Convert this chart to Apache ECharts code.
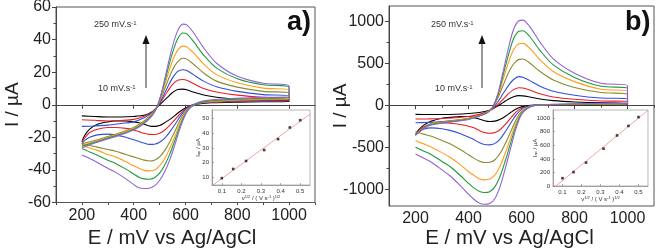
<!DOCTYPE html>
<html lang="en">
<head>
<meta charset="UTF-8">
<title>CV scan rate study</title>
<script src="https://cdn.jsdelivr.net/npm/echarts@6.0.0/dist/echarts.min.js"></script>
<style>
  html, body { margin: 0; padding: 0; background: #fff; }
  #chart { width: 656px; height: 252px; }
</style>
</head>
<body>
<div id="chart"></div>
<script>
  // scan rates (mV/s), lowest to highest, and the colour of each curve
  var scanRates = [10, 25, 50, 100, 150, 200, 250];
  var colors = ['#000000', '#f01d25', '#3050dc', '#8b8b2e', '#ff9d1f', '#1f9b3e', '#9064d4'];

  // potentials (mV) where the curves were read, forward and reverse sweep
  var eForward = [200, 250, 300, 350, 400, 440, 470, 490, 510, 530, 550, 570, 590, 605, 630, 670, 720, 800, 900, 1000];
  var eReverse = [1000, 900, 800, 700, 650, 620, 600, 580, 560, 540, 520, 500, 480, 460, 440, 420, 400, 370, 330, 300, 260, 230, 210, 200];

  // panel a) currents, uA
  var aForward = [
    [-6.8, -7.2, -7.5, -7.5, -7.2, -6.5, -4.5, -1.5, 1.5, 4.5, 7.5, 9.3, 9.6, 9.2, 7.8, 6, 4.6, 3.5, 2.8, 2.5],
    [-9.2, -9.5, -10, -9.7, -9, -7, -4.5, -1.5, 3, 8, 12.5, 15, 15.5, 15, 13, 10, 7.8, 5.9, 4.6, 4],
    [-13.3, -13, -12.5, -11.5, -10.5, -8, -5, -1.5, 4, 10.5, 16.5, 20.5, 21.5, 21, 18.5, 14.5, 11, 8.2, 6.2, 5.3],
    [-24, -22, -19.5, -17, -14, -10, -5.5, -1.5, 6, 14, 21.5, 26.5, 28.5, 28, 25, 19.5, 14.5, 10.8, 8.2, 7.2],
    [-25, -22.5, -20, -17.5, -14.5, -10.5, -6, -1.5, 7.5, 17.5, 27, 33.5, 36, 35.5, 32, 25, 18.5, 13.5, 10.2, 9],
    [-25.5, -23, -20.5, -18, -15, -11, -6.5, -1.5, 8.5, 20.5, 32, 40.5, 44, 43.5, 39, 30.5, 22.5, 16, 12.3, 10.8],
    [-26.5, -23.5, -21, -18.5, -15.5, -11.5, -7, -1.5, 9, 23, 36, 45.5, 49.5, 49, 44.5, 35, 25.5, 17.5, 13.2, 11.5]
  ];
  var aReverse = [
    [2, 1.8, 1.6, 1.2, 0.5, -0.5, -2, -4, -6.5, -9, -11, -12.8, -13.3, -13, -12, -11, -10.5, -10, -10, -10.5, -12, -15, -19, -22.6],
    [2.5, 2.2, 2, 1.5, 0.8, -0.5, -2.5, -5.5, -9, -12.5, -15.5, -17.5, -18.3, -18.2, -17.5, -16.5, -15.5, -14.5, -14, -14, -15, -17, -20.5, -23],
    [3, 2.7, 2.4, 1.8, 1, -0.8, -3, -7, -12, -16.5, -20.5, -23, -24.2, -24.3, -23.5, -22.5, -21.5, -20, -18.5, -18, -18.5, -20, -22, -24],
    [3.5, 3.2, 2.8, 2, 1, -1, -4, -9, -16, -22.5, -28, -32, -34, -34.5, -34, -33, -32, -30.5, -28.5, -27.5, -26, -25, -24.5, -24.5],
    [4, 3.5, 3, 2, 1, -1.5, -5, -11, -19, -26.5, -33, -37.5, -40, -40.6, -40.3, -39, -37.5, -35, -32, -30.5, -28, -26.5, -25.5, -25],
    [4.5, 4, 3.5, 2.5, 1, -1.5, -5.5, -12.5, -21.5, -30, -37, -42, -44.8, -45.7, -45.5, -44.5, -42.5, -39.5, -36, -34, -31, -29, -27.5, -27],
    [5, 4.5, 4, 3, 1.5, -1.5, -6, -14, -24, -33.5, -41, -46.5, -49.8, -51.2, -51.4, -51, -49, -45.5, -41.5, -39, -35.5, -33, -31.5, -30.8]
  ];

  // panel b) currents, uA
  var bForward = [
    [-110, -112, -111, -108, -100, -88, -70, -45, -10, 30, 70, 100, 113, 111, 98, 74, 54, 38, 27, 25],
    [-165, -163, -158, -150, -135, -110, -80, -45, 5, 70, 135, 185, 208, 205, 180, 135, 98, 70, 50, 45],
    [-210, -205, -195, -180, -160, -125, -85, -40, 35, 135, 230, 305, 339, 333, 295, 225, 165, 118, 85, 75],
    [-355, -230, -200, -180, -155, -120, -85, -30, 80, 230, 380, 490, 545, 549, 505, 400, 300, 210, 150, 130],
    [-355, -235, -205, -185, -160, -125, -88, -30, 100, 300, 500, 660, 730, 735, 680, 540, 400, 280, 190, 165],
    [-355, -240, -210, -190, -165, -128, -90, -30, 115, 350, 590, 790, 880, 885, 820, 650, 480, 330, 225, 200],
    [-355, -245, -215, -195, -170, -132, -92, -30, 125, 390, 670, 900, 1005, 1012, 940, 750, 550, 380, 260, 230]
  ];
  var bReverse = [
    [8, 6, 5, 3, 0, -8, -20, -45, -85, -130, -168, -190, -195, -185, -165, -145, -135, -135, -145, -155, -190, -240, -300, -355],
    [10, 8, 6, 3, -2, -15, -35, -80, -150, -225, -290, -325, -335, -325, -300, -270, -250, -230, -215, -210, -225, -260, -310, -355],
    [12, 10, 8, 4, -3, -20, -50, -115, -210, -310, -400, -455, -473, -468, -445, -410, -380, -340, -300, -280, -270, -285, -320, -355],
    [15, 12, 10, 5, -5, -30, -75, -170, -310, -450, -570, -650, -680, -683, -665, -630, -590, -530, -460, -420, -370, -345, -325, -315],
    [18, 15, 12, 6, -5, -35, -90, -210, -380, -560, -720, -830, -880, -889, -875, -835, -790, -710, -620, -565, -500, -460, -435, -420],
    [20, 17, 14, 7, -5, -40, -100, -240, -440, -650, -840, -970, -1030, -1040, -1025, -985, -930, -840, -730, -670, -590, -545, -515, -500],
    [22, 19, 16, 8, -5, -45, -110, -270, -500, -740, -960, -1110, -1170, -1180, -1165, -1120, -1060, -960, -840, -770, -680, -630, -595, -580]
  ];

  // insets: anodic peak current vs square root of scan rate
  var sqrtV = [0.1, 0.158, 0.224, 0.316, 0.387, 0.447, 0.5];
  var ipaA = [9.2, 15.5, 21, 28.5, 36, 44, 49];
  var ipaB = [115, 205, 345, 550, 745, 885, 1015];

  var mainTicksE = [200, 400, 600, 800, 1000];
  var minorTicksE = [100, 200, 300, 400, 500, 600, 700, 800, 900, 1000, 1100];
  var ticksB = [-1000, -500, 0, 500, 1000];
  var minorTicksB = [-1000, -750, -500, -250, 0, 250, 500, 750, 1000];
  var insetTicksX = [0.1, 0.2, 0.3, 0.4, 0.5];
  var insetTicksA = [10, 20, 30, 40, 50];
  var insetTicksB = [0, 200, 400, 600, 800, 1000];

  var font = '"Liberation Sans", Arial, sans-serif';
  var plain = function (v) { return String(v); };

  function loop(fwd, rev) {
    var pts = [];
    eForward.forEach(function (e, i) { pts.push([e, fwd[i]]); });
    eReverse.forEach(function (e, i) { pts.push([e, rev[i]]); });
    return pts;
  }

  // least squares line through the inset points
  function fitLine(xs, ys, x0, x1) {
    var n = xs.length, mx = 0, my = 0, sxy = 0, sxx = 0;
    for (var i = 0; i < n; i++) { mx += xs[i] / n; my += ys[i] / n; }
    for (var j = 0; j < n; j++) {
      sxy += (xs[j] - mx) * (ys[j] - my);
      sxx += (xs[j] - mx) * (xs[j] - mx);
    }
    var k = sxy / sxx, b = my - k * mx;
    return [[x0, k * x0 + b], [x1, k * x1 + b]];
  }

  function pairs(xs, ys) {
    return xs.map(function (x, i) { return [x, ys[i]]; });
  }

  var chart = echarts.init(document.getElementById('chart'));

  var lbl = { fontFamily: font, fontSize: 16, color: '#222', formatter: plain };
  var axisName = { fontFamily: font, fontSize: 19, color: '#222' };
  var small = { fontFamily: font, fontSize: 6, color: '#333' };

  function mainX(grid, gap, shift) {
    return [{
      type: 'value', gridIndex: grid, min: 100, max: 1100, position: 'bottom',
      name: 'E / mV vs Ag/AgCl', nameLocation: 'middle', nameGap: gap, nameMoveOverlap: false,
      nameTextStyle: Object.assign({}, axisName, { fontSize: 20.5, padding: [0, shift, 0, 0] }),
      axisLine: { lineStyle: { color: '#444' } },
      axisTick: { customValues: mainTicksE, length: 4, lineStyle: { color: '#444' } },
      axisLabel: Object.assign({ customValues: mainTicksE, margin: 5 }, lbl),
      splitLine: { show: false }
    }, {
      type: 'value', gridIndex: grid, min: 100, max: 1100, position: 'bottom',
      axisLine: { show: false },
      axisTick: { customValues: minorTicksE, length: 2.5, lineStyle: { color: '#444' } },
      axisLabel: { show: false }, splitLine: { show: false }
    }];
  }

  var xAxes = [].concat(mainX(0, 25, 27), mainX(1, 22, 24));
  var yAxes = [{
    type: 'value', gridIndex: 0, min: -60, max: 60, interval: 20, position: 'left',
    name: 'I / \u00b5A', nameLocation: 'middle', nameGap: 34, nameMoveOverlap: false, nameTextStyle: axisName,
    axisLine: { lineStyle: { color: '#444' } },
    axisTick: { length: 4, lineStyle: { color: '#444' } },
    minorTick: { show: true, splitNumber: 2, length: 2.5, lineStyle: { color: '#444' } },
    axisLabel: Object.assign({ margin: 5 }, lbl),
    splitLine: { show: false }
  }, {
    type: 'value', gridIndex: 1, min: -1200, max: 1180, position: 'left',
    name: 'I / \u00b5A', nameLocation: 'middle', nameGap: 39, nameMoveOverlap: false, nameTextStyle: axisName,
    axisLine: { lineStyle: { color: '#444' } },
    axisTick: { customValues: ticksB, length: 4, lineStyle: { color: '#444' } },
    axisLabel: Object.assign({ customValues: ticksB, margin: 5 }, lbl),
    splitLine: { show: false }
  }, {
    type: 'value', gridIndex: 1, min: -1200, max: 1180, position: 'left',
    axisLine: { show: false },
    axisTick: { customValues: minorTicksB, length: 2.5, lineStyle: { color: '#444' } },
    axisLabel: { show: false }, splitLine: { show: false }
  }];

  // inset axes
  var insetNameX = 'v{s|1/2} / ( V s{s|-1} ){s|1/2}';
  var richSmall = {
    s: { fontSize: 4, verticalAlign: 'top', fontFamily: font, color: '#333' },
    b: { fontSize: 4, verticalAlign: 'bottom', fontFamily: font, color: '#333' }
  };
  var insetLine = { lineStyle: { color: '#777', width: 0.6 } };
  [2, 3].forEach(function (g) {
    xAxes.push({
      type: 'value', gridIndex: g, min: 0.05, max: 0.55, z: 6, position: 'bottom',
      name: insetNameX, nameLocation: 'middle', nameGap: 10, nameMoveOverlap: false,
      nameTextStyle: Object.assign({ rich: richSmall }, small),
      axisLine: insetLine,
      axisTick: Object.assign({ customValues: insetTicksX, inside: true, length: 2 }, insetLine),
      axisLabel: Object.assign({ customValues: insetTicksX, margin: 3 }, small),
      splitLine: { show: false }
    });
  });
  yAxes.push({
    type: 'value', gridIndex: 2, min: 4.5, max: 56, z: 6, position: 'left',
    name: 'I{b|ap} / \u00b5A', nameLocation: 'middle', nameGap: 11, nameMoveOverlap: false,
    nameTextStyle: Object.assign({ rich: richSmall }, small),
    axisLine: insetLine,
    axisTick: Object.assign({ customValues: insetTicksA, inside: true, length: 2 }, insetLine),
    axisLabel: Object.assign({ customValues: insetTicksA, margin: 3 }, small),
    splitLine: { show: false }
  });
  yAxes.push({
    type: 'value', gridIndex: 3, min: 0, max: 1120, z: 6, position: 'left',
    name: 'I{b|ap} / \u00b5A', nameLocation: 'middle', nameGap: 15, nameMoveOverlap: false,
    nameTextStyle: Object.assign({ rich: richSmall }, small),
    axisLine: insetLine,
    axisTick: Object.assign({ customValues: insetTicksB, inside: true, length: 2 }, insetLine),
    axisLabel: Object.assign({ customValues: insetTicksB, margin: 3, formatter: plain }, small),
    splitLine: { show: false }
  });

  var series = [];
  scanRates.forEach(function (rate, i) {
    series.push({
      name: 'a ' + rate, type: 'line', xAxisIndex: 0, yAxisIndex: 0,
      data: loop(aForward[i], aReverse[i]), smooth: 0.3, showSymbol: false,
      lineStyle: { color: colors[i], width: 1.1 }, z: 2
    });
    series.push({
      name: 'b ' + rate, type: 'line', xAxisIndex: 2, yAxisIndex: 1,
      data: loop(bForward[i], bReverse[i]), smooth: 0.3, showSymbol: false,
      lineStyle: { color: colors[i], width: 1.1 }, z: 2
    });
  });

  [[4, 3, ipaA], [5, 4, ipaB]].forEach(function (s) {
    series.push({
      type: 'line', xAxisIndex: s[0], yAxisIndex: s[1], z: 7,
      data: fitLine(sqrtV, s[2], 0.05, 0.55), showSymbol: false,
      lineStyle: { color: '#f28c8c', width: 0.8 }
    });
    series.push({
      type: 'scatter', xAxisIndex: s[0], yAxisIndex: s[1], z: 8,
      data: pairs(sqrtV, s[2]), symbol: 'rect', symbolSize: 2.6,
      itemStyle: { color: '#111' }
    });
  });

  var sup = { s: { fontSize: 6, verticalAlign: 'top', fontFamily: font, fill: '#333' } };

  function notes(x250, x10, ax) {
    return [
      { type: 'text', x: x250, y: 20, style: { text: '250 mV.s{s|-1}', font: '9px ' + font, fill: '#333', rich: sup } },
      { type: 'text', x: x10, y: 84, style: { text: '10 mV.s{s|-1}', font: '9px ' + font, fill: '#333', rich: sup } },
      { type: 'line', shape: { x1: ax, y1: 88, x2: ax, y2: 42 }, style: { stroke: '#333', lineWidth: 1 } },
      { type: 'polygon', shape: { points: [[ax, 35], [ax - 3.5, 44], [ax + 3.5, 44]] }, style: { fill: '#111' } }
    ];
  }

  var option = {
    animation: false,
    backgroundColor: '#fff',
    grid: [
      { left: 56, top: 7, width: 259, height: 195.5, show: true, borderColor: '#555', borderWidth: 1, outerBoundsMode: 'none' },
      { left: 389, top: 6, width: 265, height: 200, show: true, borderColor: '#555', borderWidth: 1, outerBoundsMode: 'none' },
      { left: 212, top: 110, width: 98, height: 75, show: true, borderColor: '#888', borderWidth: 0.6, backgroundColor: '#fff', z: 5, outerBoundsMode: 'none' },
      { left: 553, top: 110, width: 95, height: 76, show: true, borderColor: '#888', borderWidth: 0.6, backgroundColor: '#fff', z: 5, outerBoundsMode: 'none' }
    ],
    xAxis: xAxes,
    yAxis: yAxes,
    series: series,
    graphic: [].concat(
      notes(94, 98, 146),
      notes(431, 435, 482),
      [
        { type: 'text', x: 287, y: 9, style: { text: 'a)', font: 'bold 27px ' + font, fill: '#111' } },
        { type: 'text', x: 625, y: 9, style: { text: 'b)', font: 'bold 27px ' + font, fill: '#111' } }
      ]
    )
  };

  chart.setOption(option);
</script>
</body>
</html>
